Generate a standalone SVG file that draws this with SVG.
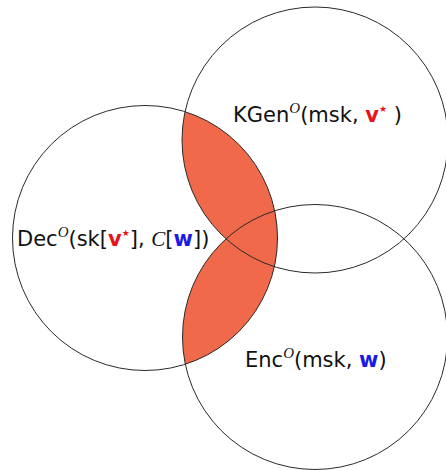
<svg xmlns="http://www.w3.org/2000/svg" width="446" height="470" viewBox="0 0 446 470">
  <style>
    .ring { fill: none; stroke: #2a2a2a; stroke-width: 1; }
    .shade { fill: #EF694A; stroke: none; }
    .lbl { font-family: "DejaVu Sans", "Liberation Sans", sans-serif; font-size: 21px; fill: #111; }
    .mi { font-family: "Liberation Serif", serif; font-style: italic; }
    .sup { font-size: 15px; }
    .star { font-size: 9px; }
    .red { fill: #E8141B; }
    .blue { fill: #1A1AE6; }
    .b { font-weight: bold; }
  </style>
  <defs>
    <clipPath id="decClip"><circle cx="145" cy="238" r="132.5"/></clipPath>
  </defs>
  <g id="shading" clip-path="url(#decClip)">
    <circle class="shade" cx="315" cy="140" r="133"/>
    <circle class="shade" cx="315" cy="337" r="132.5"/>
  </g>
  <g id="kgen">
    <circle class="ring" cx="315" cy="140" r="133"/>
    <text class="lbl" x="233" y="122">KGen<tspan class="mi sup" dy="-9">O</tspan><tspan dy="9">(msk, </tspan><tspan class="red b">v</tspan><tspan class="red star" dy="-10">★</tspan><tspan dy="10"> )</tspan></text>
  </g>
  <g id="dec">
    <circle class="ring" cx="145" cy="238" r="132.5"/>
    <text class="lbl" x="17" y="246">Dec<tspan class="mi sup" dy="-9">O</tspan><tspan dy="9">(sk[</tspan><tspan class="red b">v</tspan><tspan class="red star" dy="-10">★</tspan><tspan dy="10">], </tspan><tspan class="mi">C</tspan>[<tspan class="blue b">w</tspan>])</text>
  </g>
  <g id="enc">
    <circle class="ring" cx="315" cy="337" r="132.5"/>
    <text class="lbl" x="245" y="367">Enc<tspan class="mi sup" dy="-9">O</tspan><tspan dy="9">(msk, </tspan><tspan class="blue b">w</tspan>)</text>
  </g>
</svg>
